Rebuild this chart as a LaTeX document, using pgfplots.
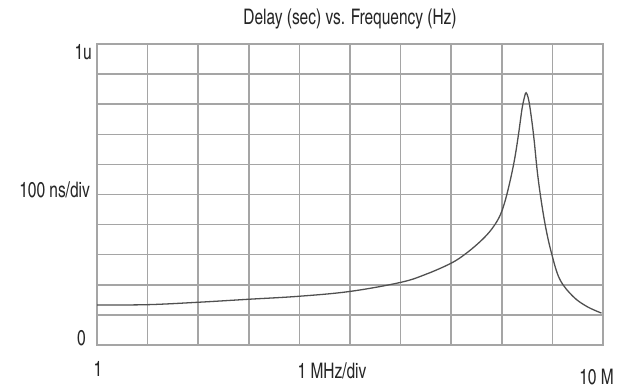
\documentclass[border=0pt]{standalone}
\usepackage{pgfplots}
\pgfplotsset{compat=1.18}
\usepackage{fontspec}
\setmainfont[FakeStretch=0.88]{TeX Gyre Heros Cn}
\definecolor{gridgray}{RGB}{165,165,165}
\definecolor{curvegray}{RGB}{80,80,80}
\begin{document}
\begin{tikzpicture}[x=1bp,y=1bp]
\path (0,0) rectangle (620,390);
\begin{axis}[at={(97bp,45bp)}, anchor=south west, scale only axis,
  width=506bp, height=301bp,
  xmin=0, xmax=10, ymin=0, ymax=1000,
  xtick={0,1,...,10}, ytick={0,100,...,1000},
  xticklabels={}, yticklabels={},
  grid=major,
  major grid style={draw=gridgray, line width=1.5pt},
  axis line style={draw=gridgray, line width=1.5pt},
  tick style={draw=none}]
\addplot[curvegray, line width=1.3pt, smooth, tension=0.6] coordinates {
(0,133) (1,134) (2,142) (3,152) (4,162) (5,178) (6,208) (6.5,235)
(7.0,272) (7.3,305) (7.6,348) (7.8,385) (7.95,425) (8.05,470)
(8.15,535) (8.25,615) (8.33,700) (8.40,785) (8.45,825) (8.48,838) (8.52,822) (8.56,785)
(8.63,694) (8.72,550) (8.85,406) (8.99,300) (9.15,217) (9.41,161) (9.68,128) (9.97,106)
};
\end{axis}
\tikzset{lbl/.style={font=\fontsize{21.5}{24}\selectfont, text=black!85, inner sep=0pt}}
\node[lbl] at (350,371) {Delay (sec) vs. Frequency (Hz)};
\node[lbl, anchor=east] at (92,337.5) {1u};
\node[lbl, anchor=east] at (90,200) {100 ns/div};
\node[lbl, anchor=east] at (86,51.5) {0};
\node[lbl] at (98,21) {1};
\node[lbl] at (332,19) {1 MHz/div};
\node[lbl] at (596.5,12.5) {10 M};
\end{tikzpicture}
\end{document}
